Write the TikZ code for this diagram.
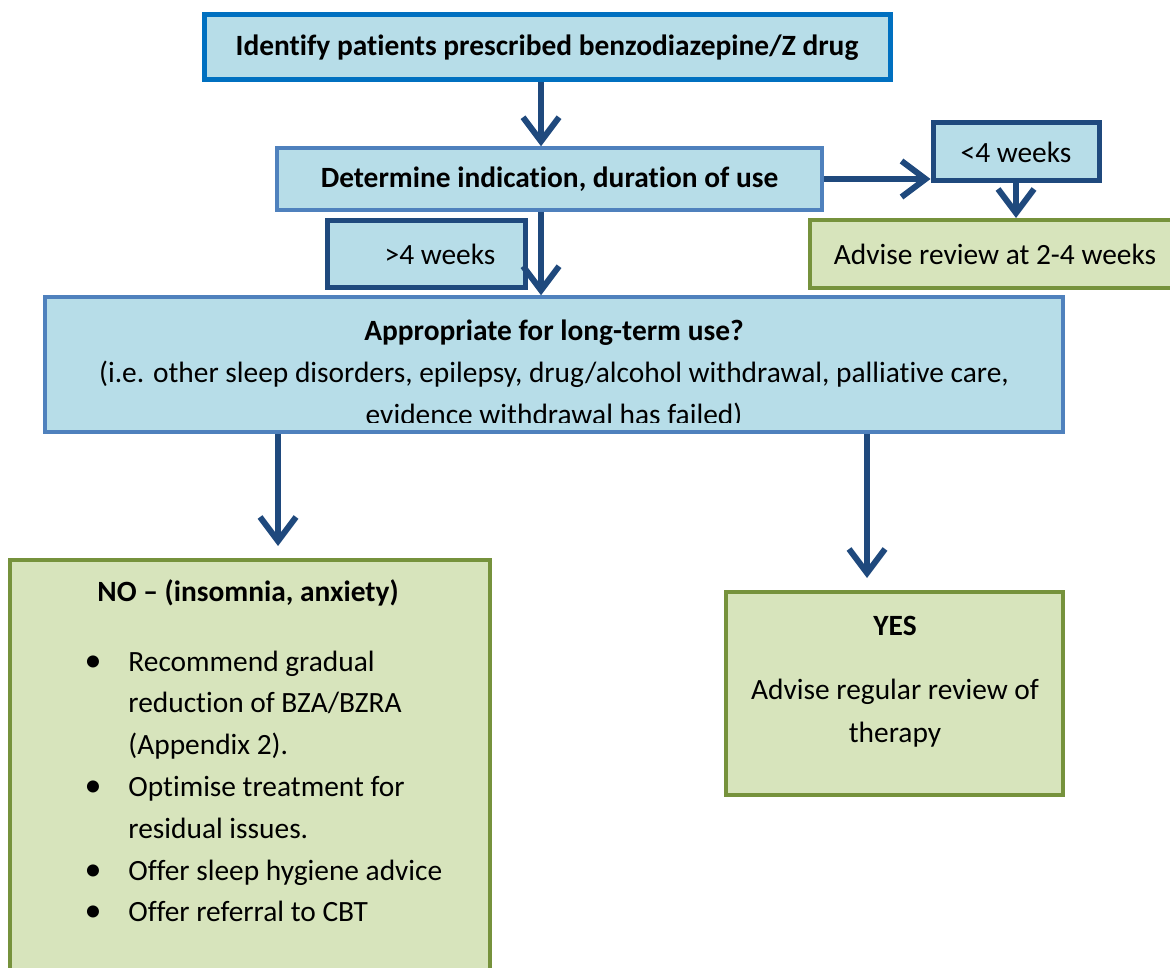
\documentclass[tikz,border=0pt]{standalone}
\usepackage{fontspec}
\setmainfont{Carlito}[RawFeature={-liga;-clig;-calt}]
\usepackage{tikz}
\usetikzlibrary{arrows.meta}
\usepackage{xcolor}
\definecolor{boxblue}{RGB}{183,221,232}
\definecolor{topedge}{RGB}{0,112,192}
\definecolor{midedge}{RGB}{79,129,189}
\definecolor{darkedge}{RGB}{31,73,125}
\definecolor{greenfill}{RGB}{215,228,188}
\definecolor{greenedge}{RGB}{118,146,60}
\newcommand{\flowfont}{\fontsize{14.7}{20.9}\selectfont}

\begin{document}
\begin{tikzpicture}[x=0.5pt,y=-0.5pt,
  bluebox/.style={rectangle,fill=boxblue,inner sep=0pt,align=center,font=\flowfont},
  greenbox/.style={rectangle,fill=greenfill,draw=greenedge,line width=2pt,
    inner sep=0pt,align=center,font=\flowfont},
  boxtext/.style={inner sep=0pt,anchor=base,align=center,font=\flowfont},
  flow/.style={draw=darkedge,line width=3pt,
    -{Straight Barb[length=12pt,width=18pt]}}]
\useasboundingbox (0,0) rectangle (1170,967);

% top of the chart
\node[bluebox,draw=topedge,line width=2.5pt,minimum width=343pt,minimum height=32.5pt,
      font=\flowfont\bfseries] (ident) at (547,47.5)
  {Identify patients prescribed benzodiazepine/Z drug};
\node[bluebox,draw=midedge,line width=1.75pt,minimum width=272.5pt,minimum height=31pt,
      font=\flowfont\bfseries] (det) at (549.5,179)
  {Determine indication, duration of use};
\node[bluebox,draw=darkedge,line width=2.5pt,minimum width=83pt,minimum height=29pt]
  (lt4) at (1016,152) {<4 weeks};
\node[greenbox,minimum width=185pt,minimum height=34pt] (adv) at (995,254)
  {Advise review at 2-4 weeks};
\node[bluebox,draw=darkedge,line width=2.5pt,minimum width=99pt,minimum height=33.5pt]
  (gt4) at (426,254.5) {\hspace*{14pt}>4 weeks};

% long-term question
\node[bluebox,draw=midedge,line width=1.75pt,minimum width=509pt,minimum height=67.5pt]
  (appr) at (554,364.5) {};
\begin{scope}
  \clip ([xshift=1pt,yshift=-1pt]appr.north west) rectangle ([xshift=-1pt,yshift=5.5pt]appr.south east);
  \node[boxtext] (apprtext) at (554,424)
    {\textbf{Appropriate for long-term use?}\\
     (i.e. other sleep disorders, epilepsy, drug/alcohol withdrawal, palliative care,\\
     evidence withdrawal has failed)};
\end{scope}

% outcomes
\node[greenbox,minimum width=240pt,minimum height=210pt] (nobox) at (250,770) {};
\node[boxtext,font=\flowfont\bfseries] (notitle) at (248,601) {NO -- (insomnia, anxiety)};
\node[boxtext,anchor=base west,align=left] (nolist) at (128,921.8)
  {Recommend gradual\\reduction of BZA/BZRA\\(Appendix 2).\\Optimise treatment for\\
   residual issues.\\Offer sleep hygiene advice\\Offer referral to CBT};
\foreach \y [count=\i] in {671,796.4,880,921.8}
  \node[boxtext,font=\fontsize{17}{20}\selectfont] (dot\i) at (93,\y) {\textbullet};

\node[greenbox,minimum width=168.5pt,minimum height=101.5pt] (yesbox) at (894.5,693.5) {};
\node[boxtext,font=\flowfont\bfseries] (yestitle) at (895,635) {YES};
\node[boxtext,font=\fontsize{14.7}{21.5}\selectfont] (yestext) at (895,742)
  {Advise regular review of\\therapy};

% arrows
\coordinate (spine) at (541,0);
\coordinate (noline) at (278,0);
\coordinate (yesline) at (867,0);
\draw[flow] (ident.south -| spine) -- (det.north -| spine);
\draw[flow] (det.east) -- (det.east -| lt4.west);
\draw[flow] (lt4.south) -- (lt4.south |- adv.north);
\draw[flow] (det.south -| spine) -- (appr.north -| spine);
\draw[flow,shorten >=6pt] (appr.south -| noline) -- (nobox.north -| noline);
\draw[flow,shorten >=6pt] (appr.south -| yesline) -- (yesbox.north -| yesline);
\end{tikzpicture}
\end{document}
